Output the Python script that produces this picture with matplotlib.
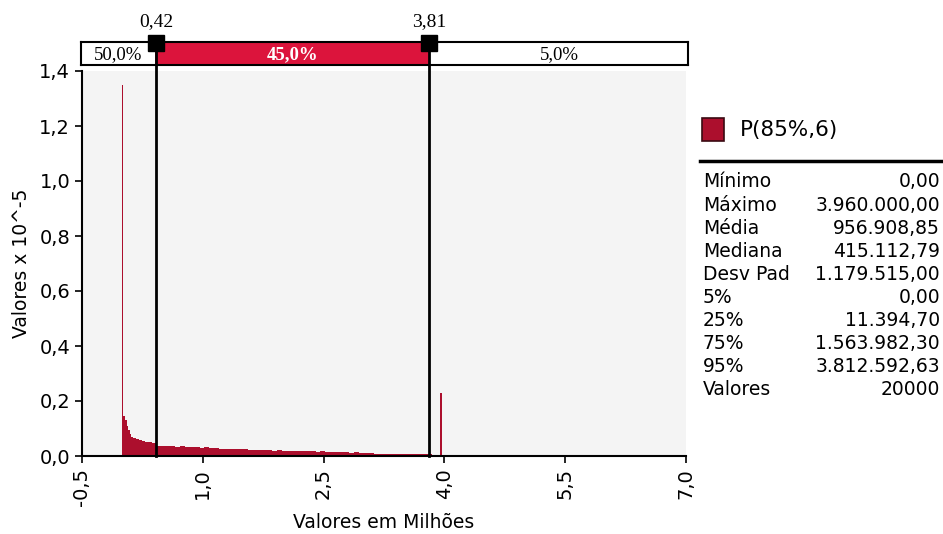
import matplotlib
matplotlib.use("Agg")
import matplotlib.pyplot as plt
from matplotlib.patches import Rectangle
from matplotlib.lines import Line2D
from matplotlib.ticker import FuncFormatter
import matplotlib.transforms as mtransforms
import numpy as np

# histogram (x in millions, y in 10^-5)
bin_edges = [0.0, 0.012, 0.037, 0.056, 0.075, 0.093, 0.112, 0.137, 0.174, 0.211,
             0.249, 0.286, 0.323, 0.373, 0.42,
             0.48, 0.54, 0.60, 0.66, 0.72, 0.78, 0.84, 0.90, 0.96, 1.02,
             1.08, 1.14, 1.20, 1.26, 1.32, 1.38, 1.44, 1.50, 1.56, 1.62,
             1.68, 1.74, 1.80, 1.86, 1.92, 1.98, 2.04, 2.10, 2.16, 2.22,
             2.28, 2.34, 2.40, 2.46, 2.52, 2.58, 2.64, 2.70, 2.76, 2.82,
             2.88, 2.94, 3.00, 3.06, 3.12, 3.18, 3.24, 3.30, 3.36, 3.42,
             3.48, 3.54, 3.60, 3.66, 3.72, 3.78, 3.84, 3.90, 3.95, 3.965]
bin_heights = [1.35, 0.146, 0.13, 0.11, 0.095, 0.08, 0.07, 0.064, 0.062, 0.058,
               0.055, 0.05, 0.052, 0.048,
               0.038, 0.036, 0.035, 0.036, 0.034, 0.035, 0.033, 0.033, 0.031, 0.030,
               0.031, 0.029, 0.028, 0.027, 0.026, 0.026, 0.025, 0.024, 0.025, 0.023,
               0.023, 0.022, 0.022, 0.021, 0.020, 0.021, 0.019, 0.019, 0.018, 0.019,
               0.018, 0.017, 0.018, 0.016, 0.017, 0.015, 0.016, 0.014, 0.015, 0.013,
               0.012, 0.013, 0.010, 0.010, 0.010, 0.009, 0.009, 0.009, 0.009, 0.008,
               0.008, 0.008, 0.008, 0.008, 0.008, 0.007, 0.006, 0.005, 0.004, 0.23]

x_ticks = [-0.5, 1.0, 2.5, 4.0, 5.5, 7.0]
y_ticks = [0.0, 0.2, 0.4, 0.6, 0.8, 1.0, 1.2, 1.4]

marks = [0.42, 3.81]
mark_labels = ["0,42", "3,81"]
band_labels = ["50,0%", "45,0%", "5,0%"]

series_name = "P(85%,6)"
stat_names = ["Mínimo", "Máximo", "Média", "Mediana", "Desv Pad", "5%", "25%",
              "75%", "95%", "Valores"]
stat_values = ["0,00", "3.960.000,00", "956.908,85", "415.112,79", "1.179.515,00",
               "0,00", "11.394,70", "1.563.982,30", "3.812.592,63", "20000"]

W, H = 943, 534
bar_color = "#ac0f2d"
band_red = "#dc143c"
sans = "DejaVu Sans"
serif = "Liberation Serif"


def fx(px):
    return px / W


def fy(py):
    return 1 - py / H


fig = plt.figure(figsize=(W / 100, H / 100), dpi=100)

# percentile band on top
ax_band = fig.add_axes([fx(81), fy(65), fx(688) - fx(81), fy(42) - fy(65)])
ax_band.set_xlim(-0.5, 7.0)
ax_band.set_ylim(0, 1)
ax_band.axvspan(marks[0], marks[1], color=band_red, lw=0)
for sp in ax_band.spines.values():
    sp.set_linewidth(1.5)
ax_band.set_xticks([])
ax_band.set_yticks([])
bounds = [-0.5] + marks + [7.0]
for i, lab in enumerate(band_labels):
    c = "white" if i == 1 else "black"
    ax_band.text((bounds[i] + bounds[i + 1]) / 2, 0.45, lab, ha="center", va="center",
                 color=c, fontsize=13.5, family=serif,
                 fontweight="bold" if i == 1 else "normal")

# main histogram
ax = fig.add_axes([fx(82), fy(456), fx(686) - fx(82), fy(71) - fy(456)])
ax.set_facecolor("#f4f4f4")
ax.bar(bin_edges[:-1], bin_heights, width=np.diff(bin_edges), align="edge",
       color=bar_color, lw=0)
ax.set_xlim(-0.5, 7.0)
ax.set_ylim(0, 1.4)
ax.set_xticks(x_ticks)
ax.set_yticks(y_ticks)
comma = FuncFormatter(lambda v, p: f"{v:.1f}".replace(".", ","))
ax.xaxis.set_major_formatter(comma)
ax.yaxis.set_major_formatter(comma)
ax.tick_params(axis="x", labelrotation=90, labelsize=14, length=5, width=1.2)
ax.tick_params(axis="y", labelsize=14, length=5, width=1.2)
for s in ["top", "right"]:
    ax.spines[s].set_visible(False)
for s in ["left", "bottom"]:
    ax.spines[s].set_linewidth(1.5)
ax.set_xlabel("Valores em Milhões", fontsize=13.5, labelpad=5)
ax.set_ylabel("Valores x 10^-5", fontsize=13.5, labelpad=6)

# marker lines, squares and labels
tr = mtransforms.blended_transform_factory(ax.transData, fig.transFigure)
for m, lab in zip(marks, mark_labels):
    ax.plot([m, m], [fy(43), fy(456)], color="black", lw=2, transform=tr,
            clip_on=False, zorder=10)
    ax.plot([m], [fy(43)], marker="s", ms=11, color="black", transform=tr,
            clip_on=False, zorder=11)
    ax.text(m, fy(22), lab, ha="center", va="center", fontsize=14, family=serif,
            transform=tr)

# legend + stats panel
fig.patches.append(Rectangle((fx(702), fy(141)), fx(724) - fx(702), fy(118) - fy(141),
                             facecolor=bar_color, edgecolor="#3a0a12", lw=1.2,
                             transform=fig.transFigure))
fig.text(fx(740), fy(130), series_name, fontsize=15.5, family=sans, va="center")
fig.lines.append(Line2D([fx(700), fx(941)], [fy(161), fy(161)], color="black", lw=2.5,
                        transform=fig.transFigure))
for i, (n, v) in enumerate(zip(stat_names, stat_values)):
    y = fy(182 + 23.1 * i)
    fig.text(fx(703), y, n, fontsize=13.5, family=sans, va="center")
    fig.text(fx(940), y, v, fontsize=13.5, family=sans, va="center", ha="right")

fig.savefig("out.png", dpi=100)
